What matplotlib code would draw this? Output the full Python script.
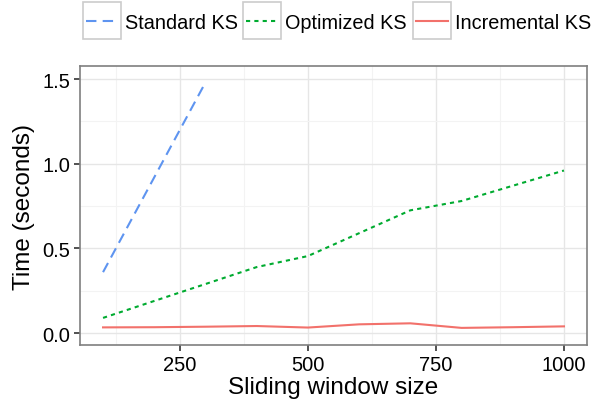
import matplotlib.pyplot as plt
import matplotlib.ticker as mticker
from matplotlib.lines import Line2D

plt.rcParams['font.family'] = ['Liberation Sans', 'DejaVu Sans']

# window sizes
window_sizes = [100, 200, 300, 400, 500, 600, 700, 800, 900, 1000]
standard_sizes = [100, 200, 300]

# run time in seconds
standard_ks = [0.36, 0.92, 1.48]
optimized_ks = [0.09, 0.19, 0.29, 0.39, 0.455, 0.59, 0.725, 0.78, 0.87, 0.96]
incremental_ks = [0.034, 0.035, 0.038, 0.042, 0.033, 0.052, 0.058, 0.031, 0.035, 0.04]

labels = ['Standard KS', 'Optimized KS', 'Incremental KS']
colors = ['#5e94f0', '#00ab30', '#f2716b']
styles = [dict(dashes=(5, 3)), dict(dashes=(2, 2)), dict(linestyle='-')]

W, H = 592, 406
fig = plt.figure(figsize=(W / 100, H / 100), dpi=100)
ax = fig.add_axes([80 / W, 60 / H, 507 / W, 279 / H])

ax.plot(standard_sizes, standard_ks, color=colors[0], lw=1.5, zorder=3, **styles[0])
ax.plot(window_sizes, optimized_ks, color=colors[1], lw=1.5, zorder=3, **styles[1])
ax.plot(window_sizes, incremental_ks, color=colors[2], lw=1.5, zorder=3, **styles[2])

ax.set_xlim(55, 1045)
ax.set_ylim(-0.07, 1.577)
ax.xaxis.set_major_locator(mticker.FixedLocator([250, 500, 750, 1000]))
ax.xaxis.set_minor_locator(mticker.FixedLocator([125, 375, 625, 875]))
ax.yaxis.set_major_locator(mticker.FixedLocator([0, 0.5, 1.0, 1.5]))
ax.yaxis.set_minor_locator(mticker.FixedLocator([0.25, 0.75, 1.25]))
ax.yaxis.set_major_formatter(mticker.FormatStrFormatter('%.1f'))

ax.grid(which='major', color='#e6e6e6', lw=1.0, zorder=0)
ax.grid(which='minor', color='#f3f3f3', lw=0.8, zorder=0)
ax.tick_params(which='major', length=4, width=1.1, color='#222222',
               labelsize=14.5, labelcolor='black', pad=3)
ax.tick_params(which='minor', length=0)
for s in ax.spines.values():
    s.set_color('#7f7f7f')
    s.set_linewidth(1.2)

ax.set_xlabel('Sliding window size', fontsize=17.5, labelpad=2)
ax.set_ylabel('Time (seconds)', fontsize=17.5, labelpad=5)

# legend drawn by hand: grey key boxes like ggplot, then the labels
key_x = [83, 243, 413]
key_w, key_h = 38, 37
key_top = 3
for kx, lab, col, st in zip(key_x, labels, colors, styles):
    y0 = 1 - (key_top + key_h) / H
    fig.add_artist(plt.Rectangle((kx / W, y0), key_w / W, key_h / H,
                                 transform=fig.transFigure, fill=False,
                                 edgecolor='#cccccc', lw=1.2))
    yc = 1 - (key_top + key_h / 2) / H
    fig.add_artist(Line2D([(kx + 3) / W, (kx + key_w - 3) / W], [yc, yc],
                          transform=fig.transFigure, color=col, lw=1.5, **st))
    fig.text((kx + key_w + 4) / W, yc, lab, fontsize=14.3,
             ha='left', va='center_baseline')

fig.savefig('out.png', dpi=100)
